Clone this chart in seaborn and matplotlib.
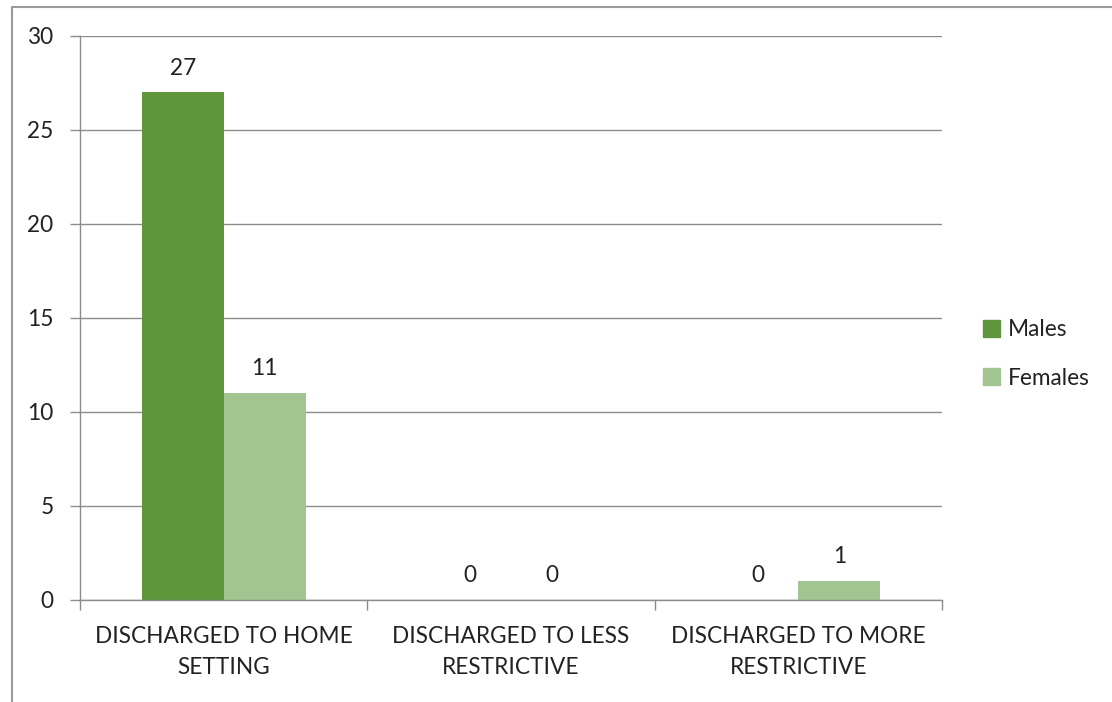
import pandas as pd
import numpy as np
import matplotlib.pyplot as plt
import seaborn as sns
from matplotlib.lines import Line2D

categories = ["DISCHARGED TO HOME\nSETTING", "DISCHARGED TO LESS\nRESTRICTIVE", "DISCHARGED TO MORE\nRESTRICTIVE"]
males = [27, 0, 0]
females = [11, 0, 1]
series = ["Males", "Females"]
colors = ["#5f963c", "#a1c490"]
y_ticks = [0, 5, 10, 15, 20, 25, 30]

df = pd.DataFrame({
    "Kategorie": categories * 2,
    "Anzahl": males + females,
    "Gruppe": [series[0]] * len(categories) + [series[1]] * len(categories),
})

sns.set_style("white")
plt.rcParams["font.family"] = ["Lato", "DejaVu Sans"]
fs = 16.3

fig = plt.figure(figsize=(11.12, 7.02), dpi=100)
ax = fig.add_axes([80 / 1112, 1 - 600 / 702, 862 / 1112, 564 / 702])

sns.barplot(data=df, x="Kategorie", y="Anzahl", hue="Gruppe", palette=colors,
            width=0.57, saturation=1, linewidth=0, ax=ax, legend=False)

# Werte über den Balken
for cont in ax.containers:
    ax.bar_label(cont, fmt="%d", padding=10, fontsize=fs, color="#222222")

ax.set_xlim(-0.5, 2.5)
ax.set_ylim(0, 30)
ax.set_yticks(y_ticks)
ax.yaxis.grid(True, color="#8c8c8c", linewidth=1)
ax.set_axisbelow(True)
ax.set_xlabel("")
ax.set_ylabel("")

for side in ["top", "right"]:
    ax.spines[side].set_visible(False)
for side in ["left", "bottom"]:
    ax.spines[side].set_color("#8c8c8c")
    ax.spines[side].set_linewidth(1)

ax.tick_params(axis="y", length=7, width=1, color="#8c8c8c", direction="out",
               labelsize=fs, labelcolor="#222222", pad=12, left=True)
ax.tick_params(axis="x", which="major", length=0, labelsize=fs, labelcolor="#222222", pad=19)
ax.set_xticks([-0.5, 0.5, 1.5, 2.5], minor=True)
ax.tick_params(axis="x", which="minor", length=7, width=1, color="#8c8c8c", direction="out", bottom=True)
for lbl in ax.get_xticklabels():
    lbl.set_linespacing(1.55)

# Legende
handles = [plt.Rectangle((0, 0), 1, 1, color=c) for c in colors]
fig.legend(handles, series, loc="center left", bbox_to_anchor=(983 / 1112, 1 - 354 / 702),
           frameon=False, fontsize=fs, handlelength=0.75, handleheight=0.75,
           handletextpad=0.35, labelspacing=1.2, borderpad=0, borderaxespad=0,
           labelcolor="#222222")

# Rahmen links und oben
fig.add_artist(Line2D([12 / 1112, 12 / 1112], [0, 1 - 7 / 702], color="#9a9a9a", linewidth=1.5))
fig.add_artist(Line2D([12 / 1112, 1], [1 - 7 / 702, 1 - 7 / 702], color="#9a9a9a", linewidth=1.5))

fig.savefig("out.png", dpi=100)
plt.close(fig)
